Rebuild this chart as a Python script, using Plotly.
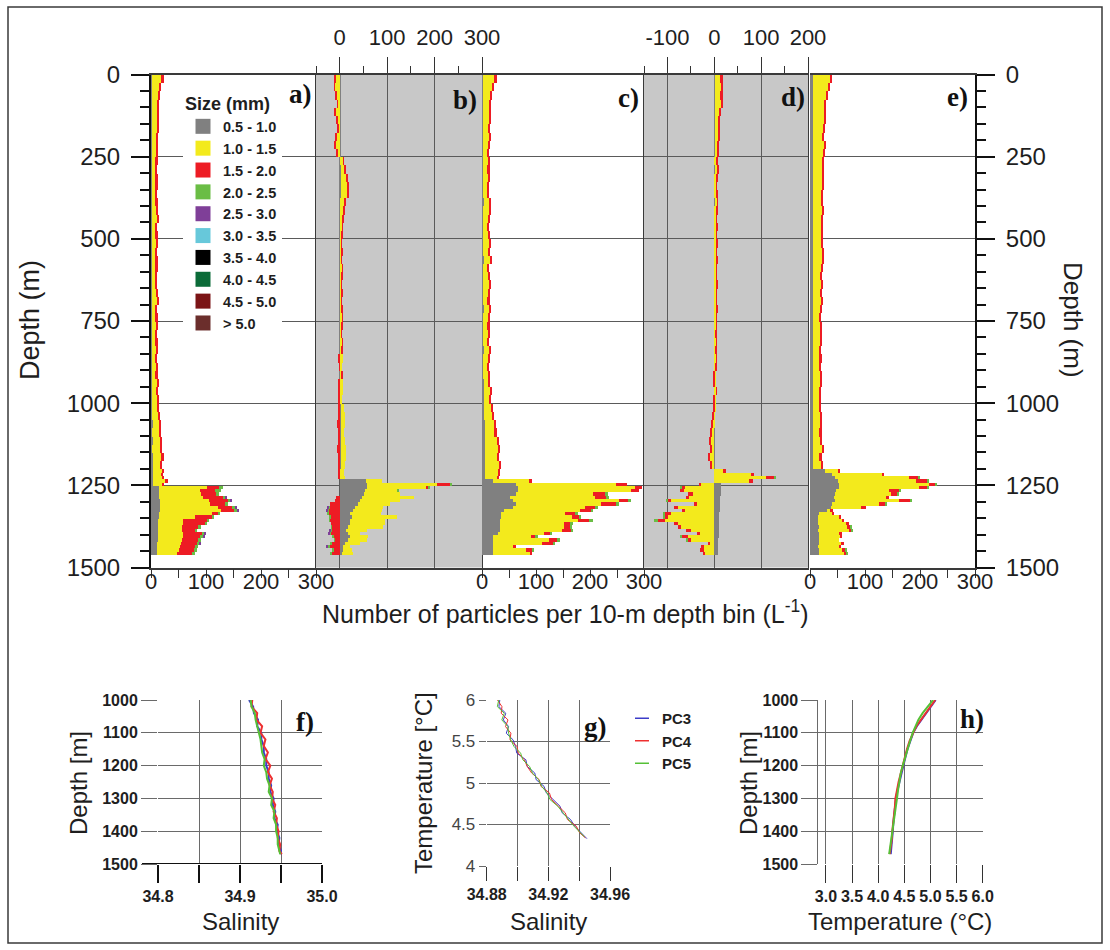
import plotly.graph_objects as go

W, H = 1110, 950


def fx(p):
    """pixel column -> paper fraction"""
    return p / W


def fy(p):
    """pixel row -> paper fraction"""
    return 1 - p / H


# ---------------- particle profiles (particles per depth bin, L^-1) ----------------
UPPER_DEPTH = [12.5 + 25 * i for i in range(48)]   # 25-m bins, 0-1200 m
LOWER_DEPTH = [1205 + 10 * i for i in range(26)]   # 10-m bins, 1200-1460 m
UPPER_WIDTH = 25
LOWER_WIDTH = 10

SIZE_CLASSES = ["0.5 - 1.0", "1.0 - 1.5", "1.5 - 2.0", "2.0 - 2.5", "2.5 - 3.0",
                "3.0 - 3.5", "3.5 - 4.0", "4.0 - 4.5", "4.5 - 5.0", "> 5.0"]
SIZE_COLORS = ["#808080", "#f3ea1c", "#ed1c24", "#6abd45", "#7f3f98",
               "#67c8da", "#000000", "#0b6b38", "#7b1416", "#6b2e2c"]

# a) profile
A_GRAY_UP = [2, 2, 2, 2, 2, 1, 2, 2, 1, 2, 2, 1, 2, 2, 1, 2, 2, 2, 1, 2, 2, 2, 1, 2,
             2, 1, 2, 2, 2, 1, 2, 2, 1, 2, 2, 2, 1, 2, 2, 2, 2, 2, 3, 2, 3, 2, 3, 3]
A_YEL_UP = [17, 14, 11, 10, 9, 10, 9, 8, 9, 8, 7, 8, 7, 7, 8, 7, 8, 9, 7, 7, 8, 7, 8, 7,
            7, 7, 8, 9, 7, 7, 8, 7, 8, 8, 7, 8, 8, 9, 8, 9, 10, 11, 12, 13, 14, 15, 16, 14]
A_RED_UP = [4, 3, 3, 2, 3, 2, 3, 3, 2, 3, 3, 2, 3, 3, 2, 3, 3, 2, 3, 3, 3, 2, 3, 3,
            2, 3, 3, 3, 2, 5, 3, 2, 3, 3, 2, 3, 3, 3, 2, 3, 3, 3, 3, 3, 3, 3, 4, 3]
A_GRAY_LO = [3, 3, 3, 3, 3, 14, 14, 15, 15, 16, 16, 17, 16, 15, 14, 13, 13, 13, 12, 12, 12, 12, 11, 11, 10, 10]
A_YEL_LO = [17, 16, 18, 23, 17, 87, 75, 76, 80, 89, 92, 105, 112, 95, 66, 46, 46, 43, 44, 47, 46, 44, 43, 42, 40, 38]
A_RED_LO = [3, 3, 3, 5, 3, 23, 27, 28, 36, 35, 27, 25, 22, 12, 30, 42, 39, 30, 24, 33, 31, 30, 29, 27, 28, 26]
A_GRN_LO = [0, 0, 0, 0, 0, 7, 12, 5, 5, 4, 5, 6, 8, 3, 5, 4, 4, 4, 4, 6, 7, 4, 6, 6, 6, 6]
A_PUR_DEPTH = [1285, 1295, 1315, 1325, 1395, 1405, 1425]
A_PUR = [2, 2, 2, 2, 2, 2, 2]

# b) profile (signed)
B_GRAY_UP = [1, 1, 1, 1, 1, 1, 1, 1, 1, 1, 1, 2, 2, 2, 2, 1, 1, 1, 1, 1, 1, 1, 1, 1,
             1, 1, 1, 1, 1, 1, 1, 1, 1, 1, 1, 1, 1, 1, 1, 1, 2, 2, 2, 2, 2, 3, 3, 3]
B_YEL_UP = [-8, -10, -6, -4, -9, -5, -3, -6, -8, -4, 6, 9, 12, 14, 15, 10, 8, 5, 4, 3, 2, 3, 2, 4,
            3, 2, 3, 2, 3, 4, 3, 2, 4, 3, 5, 4, 3, 5, 6, 4, 8, 9, 10, 8, 9, 10, 11, 9]
B_RED_UP = [-3, -2, -2, -1, -3, -2, -1, -2, -3, -2, 2, 2, 3, 2, 3, 2, 2, 1, 1, 1, 1, 1, 1, 1,
            1, 1, 1, 1, 1, 1, 1, 1, 1, 1, -2, -1, 1, -2, -3, -2, -4, -3, -5, -4, -3, -6, -4, -3]
B_GRAY_LO = [1, 1, 1, 55, 57, 57, 53, 51, 46, 42, 38, 32, 28, 21, 25, 21, 21, 18, 14, 18, 21, 18, 11, 7, 7, 4]
B_YEL_LO = [9, 8, 10, 35, 148, 127, 68, 77, 110, 86, 68, 60, 61, 66, 96, 75, 75, 74, 43, 25, 39, 39, 32, 14, 18, 24]
B_RED_LO = [-4, -3, -4, 0, 29, 3, 0, 0, -7, -9, -20, -22, -24, -23, -20, -21, -19, -17, -17, -19, -14, -11, -17, -20, -14, -17]
B_GRN_LO = [0, 0, 0, 0, 3, 2, 2, 0, 0, 0, 0, -2, -2, -2, -1, -1, 0, -1, -3, -3, -2, -1, -2, -5, -2, -2]
B_PUR_DEPTH = [1315, 1325, 1385, 1395, 1435]
B_PUR = [-2, -2, -2, -2, -2]

# c) profile
C_GRAY_UP = [2, 2, 2, 2, 2, 2, 2, 2, 2, 2, 2, 2, 2, 2, 2, 3, 2, 2, 2, 2, 2, 2, 3, 2,
             2, 2, 2, 2, 3, 2, 2, 2, 2, 3, 2, 2, 2, 3, 3, 3, 4, 4, 5, 5, 5, 6, 6, 6]
C_YEL_UP = [22, 18, 14, 12, 11, 12, 10, 11, 10, 9, 10, 9, 10, 9, 8, 11, 12, 10, 9, 10, 11, 10, 12, 9,
            10, 11, 10, 9, 11, 10, 9, 10, 9, 11, 10, 9, 10, 9, 12, 11, 13, 15, 17, 19, 22, 24, 23, 25]
C_RED_UP = [3, 2, 2, 2, 3, 2, 2, 2, 3, 2, 2, 3, 2, 2, 3, 2, 3, 2, 2, 3, 2, 3, 2, 2,
            3, 2, 2, 3, 2, 2, 3, 2, 2, 3, 2, 2, 3, 2, 2, 3, 3, 3, 4, 3, 4, 3, 3, 4]
C_GRAY_LO = [6, 6, 6, 20, 63, 66, 66, 63, 51, 57, 63, 57, 40, 36, 36, 34, 33, 33, 34, 30, 21, 21, 21, 20, 21, 20]
C_YEL_LO = [24, 25, 22, 67, 185, 218, 209, 142, 158, 197, 157, 133, 141, 118, 130, 144, 118, 118, 114, 85, 69, 103, 91, 37, 60, 70]
C_RED_LO = [3, 3, 3, 5, 21, 12, 15, 22, 21, 18, 28, 20, 21, 18, 15, 21, 12, 12, 18, 12, 9, 15, 21, 6, 12, 3]
C_GRN_LO = [0, 0, 0, 0, 0, 0, 0, 6, 6, 3, 6, 4, 3, 6, 3, 6, 6, 2, 2, 2, 5, 6, 3, 0, 3, 0]

# d) profile (signed)
D_GRAY_UP = [1, 1, 1, 1, 1, 1, 1, 1, 1, 1, 1, 1, 1, 1, 1, 1, 1, 1, 1, 1, 1, 1, 1, 1,
             1, 1, 1, 1, 1, 1, 1, 1, 1, 1, 1, 1, 1, 1, 1, 1, 1, 1, 1, 1, 1, 1, 1, 1]
D_YEL_UP = [13, 15, 12, 14, 10, 8, 7, 8, 6, 5, 4, 5, 4, 3, 4, 5, 4, 3, 4, 3, 4, 3, 4, 3,
            3, 4, 3, 3, 4, 3, 3, 2, 3, 2, 3, 2, 3, 2, 3, 2, 2, -2, -4, -6, -8, -5, -10, -6]
D_RED_UP = [4, 3, 5, 3, 4, 2, 3, 2, 2, 2, 1, 2, 1, 1, 2, 1, 1, 1, 2, 1, 1, 1, 1, 1,
            1, 1, 1, 1, 1, 1, 1, 1, 1, 1, 1, 1, -1, -1, 1, -1, -1, -2, -2, -3, -2, -3, -3, -2]
D_GRAY_LO = [0, 0, 0, 0, 14, 15, 15, 14, 13, 13, 12, 12, 12, 11, 11, 11, 10, 10, 10, 9, 9, 8, 8, 8, 7, 7]
D_YEL_LO = [18, 78, 110, 75, -28, -62, -64, -46, -53, -92, -36, -78, -64, -92, -99, -106, -78, -71, -50, -32, -57, -50, -11, -21, -21, -21]
D_RED_LO = [6, 6, 18, 7, -5, -7, -10, -10, -7, -7, -7, -7, -4, -14, -7, -15, -7, -7, -10, -4, -14, -7, -2, -7, -9, -3]
D_GRN_LO = [0, 0, 2, 0, 0, -3, 0, 0, 0, -2, 0, 0, 0, -3, -2, -7, 0, 0, 0, 0, -2, -3, 0, 0, 0, 0]

# e) profile
E_GRAY_UP = [6, 5, 6, 5, 6, 5, 6, 5, 6, 6, 5, 6, 5, 6, 6, 5, 6, 5, 6, 5, 6, 5, 6, 6,
             5, 6, 5, 6, 5, 5, 5, 6, 5, 5, 6, 5, 5, 6, 5, 5, 5, 6, 5, 6, 5, 6, 5, 6]
E_YEL_UP = [30, 28, 24, 22, 20, 21, 19, 18, 20, 18, 17, 16, 17, 16, 15, 16, 17, 16, 15, 16, 15, 17, 16, 15,
            14, 15, 14, 15, 14, 13, 14, 13, 14, 13, 12, 13, 14, 13, 12, 13, 12, 13, 14, 12, 14, 15, 13, 14]
E_RED_UP = [4, 3, 3, 2, 3, 2, 3, 2, 3, 2, 3, 2, 3, 2, 2, 3, 2, 3, 2, 2, 3, 2, 2, 3,
            2, 2, 3, 2, 2, 2, 3, 2, 2, 2, 3, 2, 2, 2, 3, 2, 2, 3, 2, 3, 2, 4, 3, 2]
E_GRAY_LO = [28, 40, 45, 50, 53, 53, 48, 45, 43, 45, 40, 38, 30, 16, 15, 14, 15, 16, 15, 16, 17, 16, 16, 15, 17, 16]
E_YEL_LO = [22, 91, 135, 142, 164, 145, 96, 102, 95, 117, 85, 54, 7, 25, 38, 45, 50, 52, 56, 37, 39, 37, 40, 38, 42, 46]
E_RED_LO = [5, 4, 18, 21, 12, 15, 18, 12, 6, 21, 13, 9, 4, 3, 2, 3, 6, 6, 5, 6, 3, 0, 6, 2, 6, 5]
E_GRN_LO = [0, 0, 2, 3, 2, 3, 2, 2, 0, 2, 2, 0, 0, 0, 0, 0, 0, 1, 2, 0, 0, 0, 0, 0, 1, 1]

PANELS = [
    ("a)", A_GRAY_UP + A_GRAY_LO, A_YEL_UP + A_YEL_LO, A_RED_UP + A_RED_LO, A_GRN_LO, (A_PUR_DEPTH, A_PUR)),
    ("b)", B_GRAY_UP + B_GRAY_LO, B_YEL_UP + B_YEL_LO, B_RED_UP + B_RED_LO, B_GRN_LO, (B_PUR_DEPTH, B_PUR)),
    ("c)", C_GRAY_UP + C_GRAY_LO, C_YEL_UP + C_YEL_LO, C_RED_UP + C_RED_LO, C_GRN_LO, None),
    ("d)", D_GRAY_UP + D_GRAY_LO, D_YEL_UP + D_YEL_LO, D_RED_UP + D_RED_LO, D_GRN_LO, None),
    ("e)", E_GRAY_UP + E_GRAY_LO, E_YEL_UP + E_YEL_LO, E_RED_UP + E_RED_LO, E_GRN_LO, None),
]
PANEL_RANGES = [[0, 300], [-50, 300], [0, 300], [-150, 200], [0, 300]]
TOP_TICKS = {1: ([0, 100, 200, 300], [-50, 50, 150, 250]),
             3: ([-100, 0, 100, 200], [-150, -50, 50, 150])}
PANEL_PX = [(151, 316), (316, 482), (482, 644), (644, 808), (810, 975)]
PANEL_LABEL_PX = [(300, 94), (465, 100), (628, 98), (793, 97), (957, 97)]

# ---------------- hydrography (CTD casts PC3-PC5) ----------------
F_DEPTH = [1000, 1020, 1040, 1060, 1080, 1100, 1120, 1140, 1160, 1180, 1200, 1220, 1240,
           1260, 1280, 1300, 1320, 1340, 1360, 1380, 1400, 1420, 1440, 1460, 1470]
F_PC3 = [34.911, 34.916, 34.917, 34.922, 34.921, 34.926, 34.926, 34.929, 34.929, 34.932, 34.932, 34.935, 34.935,
         34.938, 34.937, 34.941, 34.940, 34.943, 34.942, 34.946, 34.945, 34.948, 34.947, 34.950, 34.950]
F_PC4 = [34.915, 34.914, 34.921, 34.920, 34.927, 34.925, 34.931, 34.929, 34.934, 34.931, 34.937, 34.934, 34.939,
         34.936, 34.940, 34.939, 34.943, 34.941, 34.945, 34.944, 34.947, 34.946, 34.949, 34.948, 34.951]
F_PC5 = [34.913, 34.914, 34.918, 34.919, 34.921, 34.923, 34.925, 34.926, 34.927, 34.930, 34.929, 34.932, 34.933,
         34.936, 34.935, 34.939, 34.938, 34.942, 34.941, 34.944, 34.944, 34.946, 34.946, 34.948, 34.949]

G_T3 = [6.00, 5.92, 5.84, 5.76, 5.68, 5.60, 5.52, 5.44, 5.36, 5.28, 5.20, 5.12, 5.04, 4.96, 4.88, 4.80,
        4.72, 4.64, 4.56, 4.48, 4.40, 4.33]
G_S3 = [34.8885, 34.8879, 34.8924, 34.8908, 34.8942, 34.8927, 34.8971, 34.8987, 34.8995, 34.9054, 34.9063,
        34.9112, 34.9121, 34.9172, 34.9187, 34.9231, 34.9276, 34.9290, 34.9344, 34.9371, 34.9413, 34.9450]
G_T4 = [6.00, 5.92, 5.84, 5.76, 5.68, 5.60, 5.52, 5.44, 5.36, 5.28, 5.20, 5.12, 5.04, 4.96, 4.88, 4.80,
        4.72, 4.64, 4.56, 4.48, 4.40, 4.34]
G_S4 = [34.8870, 34.8899, 34.8894, 34.8938, 34.8922, 34.8957, 34.8951, 34.8997, 34.9005, 34.9044, 34.9063,
        34.9092, 34.9141, 34.9152, 34.9207, 34.9221, 34.9266, 34.9310, 34.9324, 34.9381, 34.9403, 34.9440]
G_T5 = [6.00, 5.92, 5.84, 5.76, 5.68, 5.60, 5.52, 5.44, 5.36, 5.28, 5.20, 5.12, 5.04, 4.96, 4.88, 4.80,
        4.72, 4.64, 4.56, 4.48, 4.40, 4.35]
G_S5 = [34.8878, 34.8869, 34.8914, 34.8898, 34.8937, 34.8942, 34.8956, 34.8977, 34.9020, 34.9034, 34.9078,
        34.9097, 34.9136, 34.9157, 34.9192, 34.9211, 34.9261, 34.9295, 34.9329, 34.9366, 34.9408, 34.9435]

H_DEPTH = [1000, 1020, 1040, 1060, 1080, 1100, 1125, 1150, 1175, 1200, 1225, 1250, 1275, 1300,
           1325, 1350, 1375, 1400, 1425, 1450, 1470]
H_PC3 = [5.10, 5.01, 4.91, 4.82, 4.74, 4.67, 4.61, 4.56, 4.52, 4.48, 4.44, 4.40, 4.37, 4.34,
         4.32, 4.31, 4.29, 4.28, 4.27, 4.26, 4.24]
H_PC4 = [5.09, 5.00, 4.90, 4.81, 4.73, 4.67, 4.60, 4.55, 4.51, 4.47, 4.42, 4.39, 4.36, 4.33,
         4.32, 4.30, 4.28, 4.27, 4.26, 4.24, 4.22]
H_PC5 = [5.05, 4.95, 4.85, 4.77, 4.71, 4.66, 4.61, 4.56, 4.51, 4.47, 4.43, 4.40, 4.38, 4.36,
         4.34, 4.32, 4.30, 4.28, 4.26, 4.24, 4.21]

CAST_NAMES = ["PC3", "PC4", "PC5"]
CAST_COLORS = ["#3c3cc8", "#ee3030", "#55c036"]

FONT = "Liberation Sans, Arial, sans-serif"
SERIF = "Liberation Serif, Times New Roman, serif"
GRID = "#5a5a5a"
FRAME = "#3a3a3a"

fig = go.Figure()

# ---------------- stacked particle bars ----------------
depth_all = UPPER_DEPTH + LOWER_DEPTH
width_all = [UPPER_WIDTH] * len(UPPER_DEPTH) + [LOWER_WIDTH] * len(LOWER_DEPTH)
for i, (label, gray, yel, red, grn, pur) in enumerate(PANELS):
    sfx = "" if i == 0 else str(i + 1)
    layers = [(gray, depth_all, width_all, SIZE_COLORS[0]),
              (yel, depth_all, width_all, SIZE_COLORS[1]),
              (red, depth_all, width_all, SIZE_COLORS[2]),
              (grn, LOWER_DEPTH, [LOWER_WIDTH] * len(LOWER_DEPTH), SIZE_COLORS[3])]
    if pur is not None:
        layers.append((pur[1], pur[0], [LOWER_WIDTH] * len(pur[0]), SIZE_COLORS[4]))
    for vals, ys, ws, col in layers:
        fig.add_trace(go.Bar(x=vals, y=ys, width=ws, orientation="h",
                             marker=dict(color=col, line=dict(width=0)),
                             xaxis="x" + sfx, yaxis="y" + sfx,
                             showlegend=False, hoverinfo="skip"))

# size-class legend entries
for name, col in zip(SIZE_CLASSES, SIZE_COLORS):
    fig.add_trace(go.Scatter(x=[None], y=[None], mode="markers", name=name,
                             marker=dict(symbol="square", size=15, color=col),
                             xaxis="x", yaxis="y", legend="legend"))

# ---------------- hydrography lines ----------------
for s, c in zip([F_PC3, F_PC4, F_PC5], CAST_COLORS):
    fig.add_trace(go.Scatter(x=s, y=F_DEPTH, mode="lines", line=dict(color=c, width=2),
                             xaxis="x6", yaxis="y6", showlegend=False, hoverinfo="skip"))
for (s, t), c in zip([(G_S3, G_T3), (G_S4, G_T4), (G_S5, G_T5)], CAST_COLORS):
    fig.add_trace(go.Scatter(x=s, y=t, mode="lines", line=dict(color=c, width=1),
                             xaxis="x7", yaxis="y7", showlegend=False, hoverinfo="skip"))
for t, c in zip([H_PC3, H_PC4, H_PC5], CAST_COLORS):
    fig.add_trace(go.Scatter(x=t, y=H_DEPTH, mode="lines", line=dict(color=c, width=2),
                             xaxis="x8", yaxis="y8", showlegend=False, hoverinfo="skip"))
for n, c in zip(CAST_NAMES, CAST_COLORS):
    fig.add_trace(go.Scatter(x=[None], y=[None], mode="markers", name=n,
                             marker=dict(symbol="line-ew", size=10, line=dict(color=c, width=1.5)),
                             xaxis="x7", yaxis="y7", legend="legend2"))

# ---------------- axes ----------------
layout = dict(
    width=W, height=H, margin=dict(l=0, r=0, t=0, b=0), autosize=False,
    paper_bgcolor="white", plot_bgcolor="rgba(0,0,0,0)",
    barmode="relative", bargap=0,
    font=dict(family=FONT, color="#1e1e1e"),
)

TOP_DOM = [fy(567.5), fy(74.5)]
for i, (rng, (p0, p1)) in enumerate(zip(PANEL_RANGES, PANEL_PX)):
    sfx = "" if i == 0 else str(i + 1)
    xa = dict(domain=[fx(p0), fx(p1)], range=rng, anchor="y" + sfx, zeroline=False,
              showline=True, mirror=True, linecolor=FRAME, linewidth=1.5,
              tickfont=dict(size=22), automargin=False)
    if i in TOP_TICKS:
        major, minor = TOP_TICKS[i]
        xa.update(side="top", tickmode="array", tickvals=major, ticktext=[str(v) for v in major],
                  ticks="outside", ticklen=16, tickwidth=1.3, tickcolor="#333",
                  showgrid=True, gridcolor=GRID, gridwidth=1.4,
                  minor=dict(tickmode="array", tickvals=minor, ticks="outside", ticklen=7,
                             tickcolor="#333", showgrid=False),
                  ticklabelstandoff=3)
    else:
        xa.update(side="bottom", tickmode="array", tickvals=[0, 50, 100, 150, 200, 250, 300],
                  ticktext=["0", "", "100", "", "200", "", "300"], ticks="outside", ticklen=9,
                  tickwidth=1.3, tickcolor="#333", showgrid=False, ticklabelstandoff=-16)
    ya = dict(domain=TOP_DOM, range=[1500, 0], anchor="x" + sfx, zeroline=False,
              tick0=0, dtick=250, showgrid=True, gridcolor=GRID, gridwidth=1.4,
              tickfont=dict(size=24), automargin=False)
    if i in (0, 4):
        ya.update(ticks="outside", ticklen=18, tickwidth=1.6, tickcolor="#111",
                  showline=True, mirror=False, linecolor="#111", linewidth=2,
                  minor=dict(dtick=50, tick0=0, ticks="outside", ticklen=9, tickcolor="#111", showgrid=False),
                  side="left" if i == 0 else "right", ticklabelstandoff=6)
    elif i in TOP_TICKS:
        ya.update(showticklabels=False, ticks="", showline=True, mirror=True,
                  linecolor=FRAME, linewidth=1.3)
    else:
        ya.update(showticklabels=False, ticks="", showline=False)
    layout["xaxis" + sfx] = xa
    layout["yaxis" + sfx] = ya

BOT_DOM = [fy(864), fy(700)]
bold16 = dict(size=16, weight="bold")
layout["xaxis6"] = dict(domain=[fx(158), fx(322)], range=[34.8, 35.0], anchor="y6",
                        tickmode="array", tickvals=[34.8, 34.85, 34.9, 34.95, 35.0],
                        ticktext=["34.8", "", "34.9", "", "35.0"], ticks="outside", ticklen=18,
                        tickcolor="#111", tickwidth=1.5, showgrid=True, gridcolor="#6a6a6a",
                        zeroline=False, tickfont=bold16, automargin=False)
layout["yaxis6"] = dict(domain=BOT_DOM, range=[1500, 1000], anchor="x6", tickmode="array",
                        tickvals=[1000, 1100, 1200, 1300, 1400, 1500], ticks="outside", ticklen=16,
                        tickcolor="#6a6a6a", showgrid=True, gridcolor="#6a6a6a", zeroline=False,
                        tickfont=bold16, automargin=False)
layout["xaxis7"] = dict(domain=[fx(486.7), fx(610)], range=[34.88, 34.96], anchor="y7",
                        tickmode="array", tickvals=[34.88, 34.90, 34.92, 34.94, 34.96],
                        ticktext=["34.88", "", "34.92", "", "34.96"], ticks="outside", ticklen=14,
                        tickcolor="#333", showgrid=True, gridcolor="#6a6a6a", zeroline=False,
                        tickfont=bold16, automargin=False)
layout["yaxis7"] = dict(domain=[fy(866), fy(700)], range=[4, 6], anchor="x7", tickmode="array",
                        tickvals=[4, 4.5, 5, 5.5, 6], ticktext=["4", "4.5", "5", "5.5", "6"],
                        ticks="outside", ticklen=7, tickcolor="#6a6a6a", showgrid=True,
                        gridcolor="#6a6a6a", zeroline=False, tickfont=dict(size=17, color="#444"),
                        automargin=False)
layout["xaxis8"] = dict(domain=[fx(818.3), fx(982.7)], range=[2.854, 6.0], anchor="y8",
                        tickmode="array", tickvals=[3.0, 3.5, 4.0, 4.5, 5.0, 5.5, 6.0],
                        ticktext=["3.0", "3.5", "4.0", "4.5", "5.0", "5.5", "6.0"], ticks="outside",
                        ticklen=18, tickcolor="#333", showgrid=True, gridcolor="#6a6a6a",
                        zeroline=False, tickfont=bold16, automargin=False)
layout["yaxis8"] = dict(domain=BOT_DOM, range=[1500, 1000], anchor="x8", tickmode="array",
                        tickvals=[1000, 1100, 1200, 1300, 1400, 1500], ticks="outside", ticklen=16,
                        tickcolor="#6a6a6a", showgrid=True, gridcolor="#6a6a6a", zeroline=False,
                        showline=True, linecolor="#6a6a6a", linewidth=1,
                        tickfont=bold16, automargin=False)

layout["legend"] = dict(x=fx(183), y=fy(87), xanchor="left", yanchor="top", bgcolor="white",
                        borderwidth=0, font=dict(size=14.5, weight="bold"),
                        title=dict(text="Size (mm)", font=dict(size=18, weight="bold")),
                        itemclick=False, itemdoubleclick=False)
layout["legend2"] = dict(x=fx(622), y=fy(702), xanchor="left", yanchor="top",
                         bgcolor="rgba(0,0,0,0)", font=dict(size=15, weight="bold"),
                         itemclick=False, itemdoubleclick=False)

shapes = [
    # outer frame
    dict(type="rect", xref="paper", yref="paper", x0=fx(8), x1=fx(1102), y0=fy(943), y1=fy(7),
         line=dict(color=FRAME, width=1.5), layer="below"),
    # grey backgrounds of the difference panels
    dict(type="rect", xref="paper", yref="paper", x0=fx(316), x1=fx(482), y0=TOP_DOM[0], y1=TOP_DOM[1],
         fillcolor="#c8c8c8", line=dict(width=0), layer="below"),
    dict(type="rect", xref="paper", yref="paper", x0=fx(644), x1=fx(808), y0=TOP_DOM[0], y1=TOP_DOM[1],
         fillcolor="#c8c8c8", line=dict(width=0), layer="below"),
    # heavy base line of panel f
    dict(type="line", xref="paper", yref="y6", x0=fx(142), x1=fx(322), y0=1500, y1=1500,
         line=dict(color="#111", width=2.2), layer="above"),
]
layout["shapes"] = shapes

ann = []
for lab, (px, py) in zip([p[0] for p in PANELS], PANEL_LABEL_PX):
    ann.append(dict(x=fx(px), y=fy(py), xref="paper", yref="paper", text="<b>%s</b>" % lab,
                    showarrow=False, font=dict(family=SERIF, size=27, color="#111"),
                    xanchor="center", yanchor="middle"))
for lab, (px, py) in zip(["f)", "g)", "h)"], [(305, 722), (595, 727), (972, 719)]):
    ann.append(dict(x=fx(px), y=fy(py), xref="paper", yref="paper", text="<b>%s</b>" % lab,
                    showarrow=False, font=dict(family=SERIF, size=27, color="#111"),
                    xanchor="center", yanchor="middle"))


def title(text, px, py, size, angle=0):
    return dict(x=fx(px), y=fy(py), xref="paper", yref="paper", text=text, showarrow=False,
                font=dict(size=size, color="#1e1e1e"), textangle=angle,
                xanchor="center", yanchor="middle")


ann += [
    title("Depth (m)", 30, 320, 27, -90),
    title("Depth (m)", 1073, 320, 26, 90),
    title("Number of particles per 10-m depth bin (L<sup>-1</sup>)", 565, 612, 25),
    title("Depth [m]", 78, 783, 24, -90),
    title("Salinity", 240, 921, 24),
    title("Temperature [°C]", 423, 783, 24, -90),
    title("Salinity", 548, 921, 24),
    title("Depth [m]", 748, 783, 24, -90),
    title("Temperature (°C)", 900, 921, 24),
]
layout["annotations"] = ann

fig.update_layout(**layout)
fig.write_html("out.html")
